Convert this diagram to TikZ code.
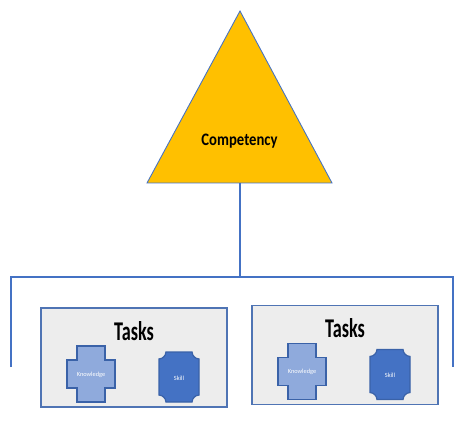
\documentclass[tikz,border=0pt]{standalone}
\usepackage{fontspec}
\setmainfont{Carlito}
\usepackage{xcolor}
\definecolor{compfill}{HTML}{FFC000}
\definecolor{linkblue}{HTML}{4472C4}
\definecolor{darkedge}{HTML}{4F74B4}
\definecolor{shapeedge}{HTML}{3A62A8}
\definecolor{boxfill}{HTML}{EDEDED}
\definecolor{knowfill}{HTML}{8FAADC}
\tikzset{
  link/.style={line width=1.7pt,linkblue},
  taskbox/.style={draw=darkedge,fill=boxfill,line width=0.6pt},
  knowshape/.style={draw=shapeedge,fill=knowfill,line width=0.7pt},
  skillshape/.style={draw=shapeedge,fill=linkblue,line width=0.7pt},
  smalltxt/.style={white,font=\fontsize{3.6}{4}\selectfont},
}
\begin{document}
\begin{tikzpicture}[x=0.02cm,y=-0.02cm]
\useasboundingbox (0,0) rectangle (467,446);
\coordinate (apex) at (240,11);
\coordinate (baseL) at (147,183);
\coordinate (baseR) at (332,183);
\coordinate (baseM) at (240,183);
\coordinate (busM) at (240,277);
\coordinate (busL) at (11,277);
\coordinate (busR) at (453,277);
\coordinate (endL) at (11,367);
\coordinate (endR) at (453,367);
\draw[fill=compfill,draw=linkblue,line width=0.5pt](apex)--(baseR)--(baseL)--cycle;
\node (comp) at (239.5,141){\scalebox{0.88}[1.05]{\fontsize{9.5}{10}\selectfont\bfseries Competency}};
\draw[link](baseM)--(busM);
\draw[link](endL)--(busL)--(busR)--(endR);
\foreach \x/\y/\n in {0/0/a,211/-2.5/b}{
\begin{scope}[shift={(\x,\y)}]
\draw[taskbox](41,308)rectangle(227,407);
\node (tasks\n) at (134,331){\scalebox{0.74}[1.1]{\fontsize{14}{15}\selectfont\bfseries Tasks}};
\draw[knowshape](77,346)--(105,346)--(105,360)--(115,360)--(115,388)--(105,388)--(105,402)--(77,402)--(77,388)--(67,388)--(67,360)--(77,360)--cycle;
\node[smalltxt] (know\n) at (91,374.5){Knowledge};
\draw[skillshape](166,352)--(192,352) to[bend right=40] (199,359)--(199,395) to[bend right=40] (192,402)--(166,402) to[bend right=40] (159,395)--(159,359) to[bend right=40] cycle;
\node[smalltxt] (skill\n) at (179,378){Skill};
\end{scope}
}
\end{tikzpicture}
\end{document}
